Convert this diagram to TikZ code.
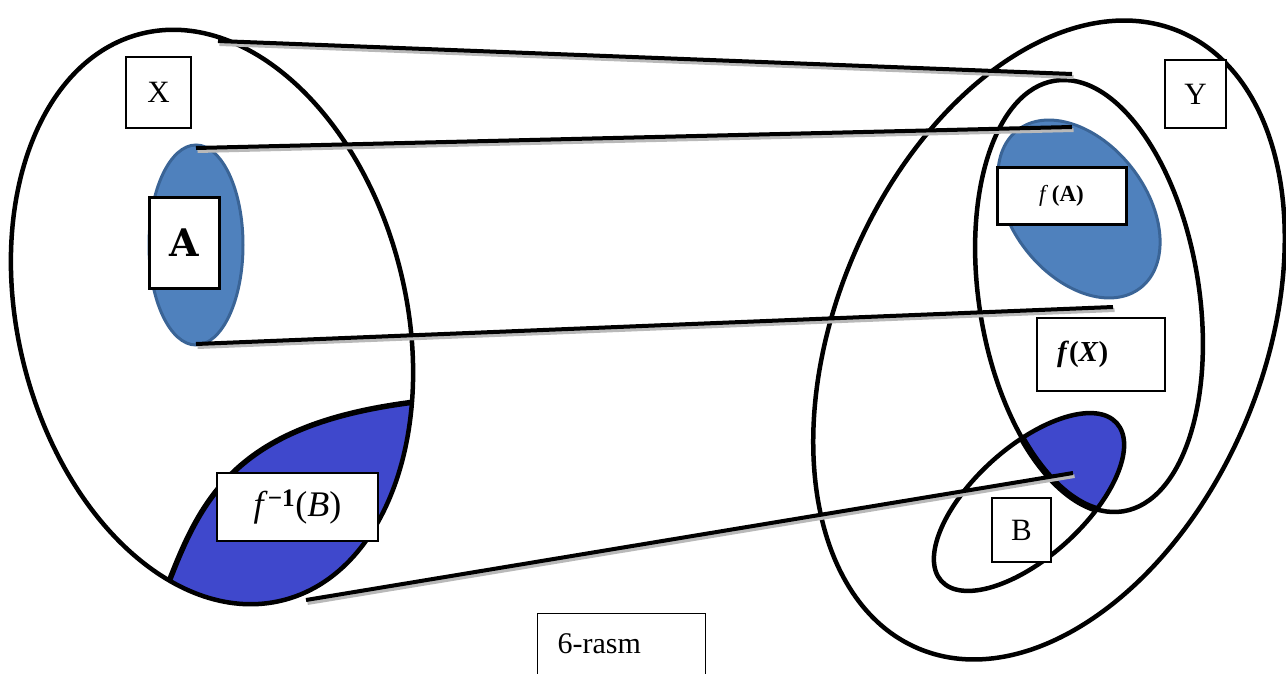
\documentclass[tikz,border=0pt]{standalone}
\usepackage{fontspec}
\setmainfont{Liberation Serif}
\newfontfamily\slabfont{DejaVu Serif}
\usepackage{tikz}
\usetikzlibrary{positioning}

\definecolor{setblue}{HTML}{4F81BD}
\definecolor{setedge}{HTML}{3A6496}
\definecolor{preblue}{HTML}{3F48CC}

\begin{document}
\begin{tikzpicture}[x=1pt, y=-1pt,
  rim/.style={line width=4.5pt},
  conn/.style={line width=4pt, preaction={draw, gray!55, line width=4pt, transform canvas={xshift=1.5pt, yshift=-3pt}}},
  tag/.style={draw, fill=white, line width=1.2pt, inner sep=0pt, font=\fontsize{31}{36}\selectfont},
  boldtag/.style={tag, line width=3pt},
  Xset/.style={rotate around={14:(212,317)}},
  Yset/.style={rotate around={-23:(1049,340)}},
  fXset/.style={rotate around={9:(1089,296)}},
  fAset/.style={rotate around={-52:(1079,209)}},
  Bset/.style={rotate around={42:(1029,502)}}]
  \useasboundingbox (0,0) rectangle (1286,674);
  \clip (0,0) rectangle (1286,674);

  % set X with A and the preimage of B
  \begin{scope}
    \clip[Xset] (212,317) ellipse [x radius=194, y radius=292];
    \fill[preblue] (160,604) -- (172,574) .. controls (205,490) and (245,425) .. (407,403)
      -- (460,390) -- (460,690) -- (160,690) -- cycle;
    \draw[line width=5.5pt] (160,604) -- (172,574) .. controls (205,490) and (245,425) .. (407,403) -- (440,398);
  \end{scope}
  \draw[rim, Xset] (212,317) ellipse [x radius=194, y radius=292];
  \draw[fill=setblue, draw=setedge, line width=3pt] (196,245) ellipse [x radius=47, y radius=100];

  % set Y with f(X), f(A) and B
  \draw[fill=setblue, draw=setedge, line width=3pt, fAset] (1079,209) ellipse [x radius=100, y radius=67];
  \begin{scope}
    \clip[fXset] (1089,296) ellipse [x radius=110, y radius=218];
    \fill[preblue, Bset] (1029,502) ellipse [x radius=118, y radius=55];
  \end{scope}
  \draw[rim, Yset] (1049,340) ellipse [x radius=213, y radius=335];
  \draw[rim, fXset] (1089,296) ellipse [x radius=110, y radius=218];
  \draw[rim, Bset] (1029,502) ellipse [x radius=118, y radius=55];
  \begin{scope}
    \clip[Bset] (1029,502) ellipse [x radius=118, y radius=55];
    \draw[line width=7pt, fXset] (1089,296) ellipse [x radius=110, y radius=218];
  \end{scope}

  % ends of the mapping lines
  \coordinate (Xtop) at (218,41);
  \coordinate (fXtop) at (1072,74);
  \coordinate (Atop) at (196,148);
  \coordinate (fAtop) at (1072,127);
  \coordinate (Abot) at (196,344);
  \coordinate (fAbot) at (1113,307);
  \coordinate (preB) at (306,600);
  \coordinate (Bin) at (1073,473);
  \foreach \a/\b in {Xtop/fXtop, Atop/fAtop, Abot/fAbot, preB/Bin}
    \draw[conn] (\a) -- (\b);

  % labels
  \node[tag, minimum width=65, minimum height=71] (xlab) at (158.5,92.5) {X};
  \node[boldtag, minimum width=70, minimum height=90, font=\slabfont\bfseries\fontsize{38}{42}\selectfont] (alab) at (184,243) {A};
  \node[tag, minimum width=161, minimum height=68, font=\fontsize{36}{40}\selectfont] (pblab) at (297.5,507) {\textit{f}\textsuperscript{\textbf{−1}}(\textit{B})};
  \node[tag, minimum width=61, minimum height=68] (ylab) at (1195.5,94) {Y};
  \node[boldtag, minimum width=129, minimum height=56, font=\fontsize{23}{26}\selectfont] (falab) at (1061.5,196) {\textit{f}\,\textbf{(A)}};
  \node[tag, minimum height=73, text width=88, inner xsep=20, align=left, font=\fontsize{29}{34}\selectfont] (fxlab) at (1101,354.5) {\textbf{\textit{f}(\textit{X})}};
  \node[tag, minimum width=59, minimum height=64] (blab) at (1021.5,530) {B};
  \node[tag, anchor=north west, text width=128, inner xsep=20, inner ysep=20, text depth=30, align=left, font=\fontsize{30}{34}\selectfont] (rasm) at (537,613) {6-rasm};
\end{tikzpicture}
\end{document}
